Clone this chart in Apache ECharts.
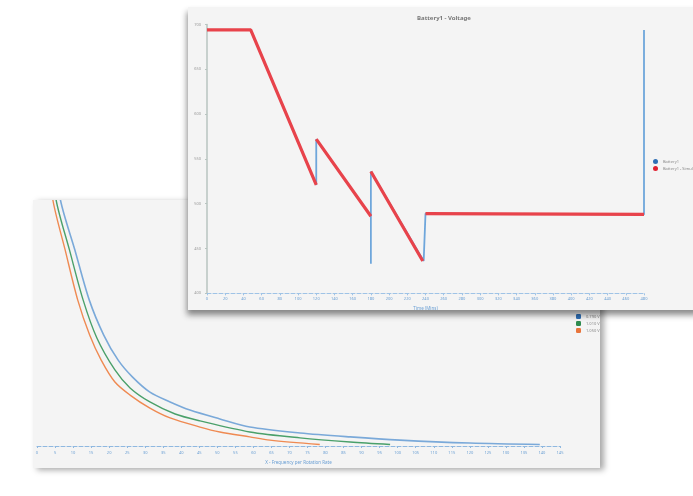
<!DOCTYPE html>
<html>
<head>
<meta charset="utf-8">
<script src="https://cdn.jsdelivr.net/npm/echarts@6/dist/echarts.min.js"></script>
<style>
  html, body { margin:0; padding:0; background:#ffffff; width:693px; height:496px; overflow:hidden; }
  #back { position:absolute; left:33px; top:200px; width:567px; height:268px; background:#f4f4f4;
          box-shadow: 4px 2px 6px rgba(0,0,0,0.35); }
  #front { position:absolute; left:188px; top:7px; width:512px; height:303px; background:#f4f4f4;
           box-shadow: -1px 5px 6px rgba(0,0,0,0.45); }
</style>
</head>
<body>
<div id="back"></div>
<div id="front"></div>
<script>
// ---------- Front chart: Battery1 - Voltage ----------
const frontTitle = "Battery1 - Voltage";
const frontXName = "Time (Mins)";
const frontYName = "Voltage";
const frontSeriesNames = ["Battery1", "Battery1 - Simulated"];
// Battery1 (measured) [time, voltage]
const battery1 = [
  [0, 694], [48, 694], [120, 521], [120, 572], [180, 486], [180, 433], [180, 536],
  [238, 436], [240, 489], [480, 488], [480, 694]
];
// Battery1 - Simulated (null = break)
const battery1Sim = [
  [0, 694], [48, 694], [120, 521], null, [120, 572], [180, 486], null,
  [180, 536], [237, 436], null, [240, 489], [480, 488]
];

// ---------- Back chart ----------
const backXName = "X - Frequency per Rotation Rate";
const backSeriesNames = ["0.790 V", "1.010 V", "1.050 V"];
const backBlue = [
  [4.8, 120], [6.5, 100], [10.5, 79.7], [14.5, 59.3], [18.5, 45.1], [22.5, 34.9], [26.5, 28],
  [31.3, 21.9], [36.9, 17.9], [42.4, 14.6], [50.7, 11], [59, 7.7], [72.9, 5.3], [86.8, 3.7],
  [100.6, 2.4], [120, 1.2], [139.4, 0.6]
];
const backGreen = [
  [3.8, 120], [5.3, 100], [9, 79.7], [12.8, 59.3], [16.6, 43.9], [21.6, 30.9], [25.8, 23.6],
  [31.3, 17.9], [38.3, 13], [45.2, 10.2], [59, 5.7], [72.9, 3.3], [86.8, 1.6], [97.9, 0.6]
];
const backOrange = [
  [3, 120], [4.4, 100], [7.8, 79.7], [11.3, 59.3], [14.6, 45.1], [17.8, 34.9], [21.6, 26],
  [25.8, 20.7], [31.3, 15.4], [36.9, 11.4], [45.2, 7.7], [50.7, 5.7], [59, 3.7], [64.6, 2.4],
  [78.4, 0.6]
];

const back = echarts.init(document.getElementById('back'), null, {renderer:'canvas'});
back.setOption({
  animation:false,
  backgroundColor:'#f4f4f4',
  legend:{
    orient:'vertical', left:538, top:109, itemWidth:5, itemHeight:5, itemGap:2,
    icon:'roundRect',
    textStyle:{fontSize:4, color:'#888', fontFamily:'Noto Sans'},
    data:backSeriesNames
  },
  grid:{left:4, right:40, top:0, bottom:22, containLabel:false, outerBoundsMode:'none'},
  xAxis:{
    type:'value', min:0, max:145, interval:5,
    name:backXName, nameLocation:'middle', nameGap:13,
    nameTextStyle:{fontSize:4.5, color:'#6a9fd4', fontFamily:'Noto Sans'},
    axisLine:{lineStyle:{color:'#8fb8e0', type:'dashed', width:1}},
    axisTick:{show:true, length:2, lineStyle:{color:'#8fb8e0'}},
    axisLabel:{fontSize:4, color:'#6a9fd4', margin:5, fontFamily:'Noto Sans'},
    splitLine:{show:false}
  },
  yAxis:{ type:'value', min:0, max:100, show:false, splitLine:{show:false} },
  series:[
    {name:backSeriesNames[0], type:'line', data:backBlue, showSymbol:false, smooth:0.3, clip:true,
     lineStyle:{color:'#7aa9d9', width:1.6}, itemStyle:{color:'#2f6fb5'}},
    {name:backSeriesNames[1], type:'line', data:backGreen, showSymbol:false, smooth:0.3, clip:true,
     lineStyle:{color:'#4aa06a', width:1.4}, itemStyle:{color:'#2e8b4f'}},
    {name:backSeriesNames[2], type:'line', data:backOrange, showSymbol:false, smooth:0.3, clip:true,
     lineStyle:{color:'#ef8a52', width:1.4}, itemStyle:{color:'#e8743b'}}
  ]
});

const front = echarts.init(document.getElementById('front'), null, {renderer:'canvas'});
front.setOption({
  animation:false,
  backgroundColor:'#f4f4f4',
  title:{
    text:frontTitle, left:'center', top:3,
    textStyle:{fontSize:6, fontWeight:'bold', color:'#777', fontFamily:'Noto Sans'}
  },
  legend:{
    orient:'vertical', left:460, top:147, itemWidth:5, itemHeight:5, itemGap:2,
    icon:'circle',
    textStyle:{fontSize:4, color:'#888', fontFamily:'Noto Sans'},
    data:frontSeriesNames
  },
  grid:{left:19, right:56, top:17.5, bottom:16.7, containLabel:false, outerBoundsMode:'none'},
  xAxis:{
    type:'value', min:0, max:480, interval:20,
    name:frontXName, nameLocation:'middle', nameGap:10,
    nameTextStyle:{fontSize:4.5, color:'#6a9fd4', fontFamily:'Noto Sans'},
    axisLine:{lineStyle:{color:'#9fc3e6', type:'dashed', width:1}},
    axisTick:{show:true, length:2, lineStyle:{color:'#9fc3e6'}},
    axisLabel:{fontSize:4, color:'#6a9fd4', margin:4, fontFamily:'Noto Sans'},
    splitLine:{show:false}
  },
  yAxis:{
    type:'value', min:400, max:700, interval:50,
    name:frontYName, nameLocation:'middle', nameGap:14, nameRotate:90,
    nameTextStyle:{fontSize:4.5, color:'#7aa88a', fontFamily:'Noto Sans'},
    axisLine:{show:true, lineStyle:{color:'#b8c4c0', width:1.5}},
    axisTick:{show:true, length:2, lineStyle:{color:'#b8c4c0'}},
    axisLabel:{fontSize:4, color:'#999', margin:6, fontFamily:'Noto Sans'},
    splitLine:{show:false}
  },
  series:[
    {name:frontSeriesNames[0], type:'line', data:battery1, showSymbol:false,
     lineStyle:{color:'#6ea6db', width:1.8}, itemStyle:{color:'#2f6fb5'}},
    {name:frontSeriesNames[1], type:'line', data:battery1Sim, showSymbol:false, connectNulls:false,
     lineStyle:{color:'#e8434b', width:3.2}, itemStyle:{color:'#e02030'}}
  ]
});
</script>
</body>
</html>
